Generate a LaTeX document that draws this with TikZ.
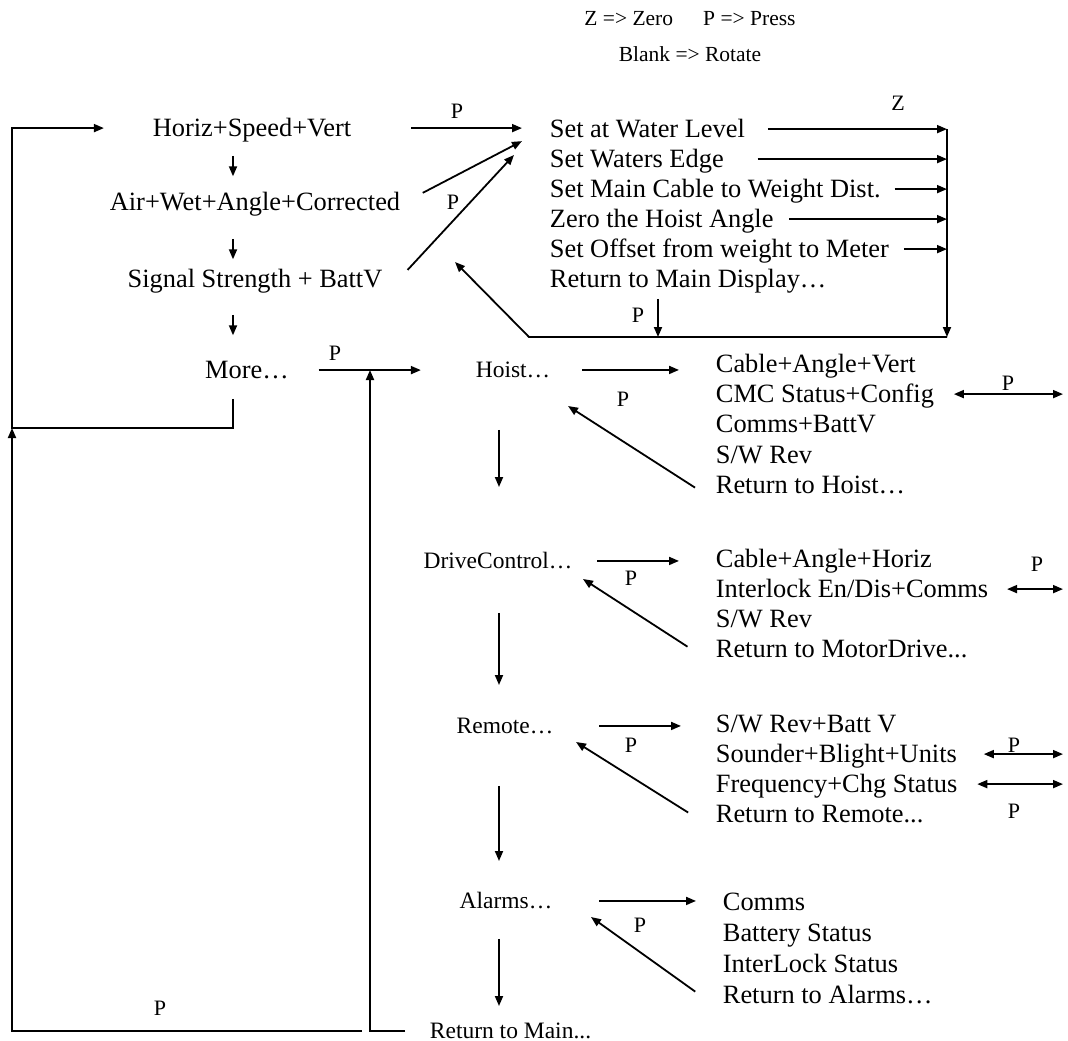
\documentclass[tikz,border=0pt]{standalone}
\usepackage{fontspec}
\setmainfont{Liberation Serif}
\usetikzlibrary{arrows.meta}

\tikzset{
  entry/.style={font=\fontsize{26.4}{30}\selectfont,inner sep=4pt,text height=15.8pt,text depth=0pt},
  menu/.style={font=\fontsize{23.5}{28}\selectfont,inner sep=4pt,text height=14.1pt,text depth=0pt},
  plabel/.style={font=\fontsize{22}{26}\selectfont,inner sep=0pt},
  hint/.style={font=\fontsize{21.5}{26}\selectfont,inner sep=0pt},
}

\begin{document}
\begin{tikzpicture}[x=1pt,y=-1pt,>={Triangle[length=10pt,width=8pt]},line width=1.8pt]
\useasboundingbox (0,0) rectangle (1068,1041);

\node[hint,anchor=base] (hintA) at (690,26) {Z => Zero\hspace{1.4em}P => Press};
\node[hint,anchor=base] (hintB) at (690,62) {Blank => Rotate};

\node[entry,anchor=base] (horiz) at (252,136) {Horiz+Speed+Vert};
\node[entry,anchor=base] (air) at (255,210) {Air+Wet+Angle+Corrected};
\node[entry,anchor=base] (signal) at (255,287) {Signal Strength + BattV};
\node[entry,anchor=base] (more) at (247,378) {More…};

\node[entry,anchor=base west] (setA) at (545,137) {Set at Water Level};
\node[entry,anchor=base west] (setB) at (545,167) {Set Waters Edge};
\node[entry,anchor=base west] (setC) at (545,197) {Set Main Cable to Weight Dist.};
\node[entry,anchor=base west] (setD) at (545,227) {Zero the Hoist Angle};
\node[entry,anchor=base west] (setE) at (545,257) {Set Offset from weight to Meter};
\node[entry,anchor=base west] (setF) at (545,287) {Return to Main Display…};

\node[menu,anchor=base] (hoist) at (513,377) {Hoist…};
\node[menu,anchor=base] (drive) at (498,568) {DriveControl…};
\node[menu,anchor=base] (remote) at (505,733) {Remote…};
\node[menu,anchor=base] (alarms) at (506,908) {Alarms…};
\node[menu,anchor=base west] (retmain) at (425,1038) {Return to Main...};

\node[entry,anchor=base west] (cabA) at (711,372) {Cable+Angle+Vert};
\node[entry,anchor=base west] (cabB) at (711,402) {CMC Status+Config};
\node[entry,anchor=base west] (cabC) at (711,432) {Comms+BattV};
\node[entry,anchor=base west] (cabD) at (711,463) {S/W Rev};
\node[entry,anchor=base west] (cabE) at (711,493) {Return to Hoist…};

\node[entry,anchor=base west] (dcA) at (711,567) {Cable+Angle+Horiz};
\node[entry,anchor=base west] (dcB) at (711,597) {Interlock En/Dis+Comms};
\node[entry,anchor=base west] (dcC) at (711,627) {S/W Rev};
\node[entry,anchor=base west] (dcD) at (711,657) {Return to MotorDrive...};

\node[entry,anchor=base west] (rmA) at (711,732) {S/W Rev+Batt V};
\node[entry,anchor=base west] (rmB) at (711,762) {Sounder+Blight+Units};
\node[entry,anchor=base west] (rmC) at (711,792) {Frequency+Chg Status};
\node[entry,anchor=base west] (rmD) at (711,822) {Return to Remote...};

\node[entry,anchor=base west] (alA) at (718,910) {Comms};
\node[entry,anchor=base west] (alB) at (718,941) {Battery Status};
\node[entry,anchor=base west] (alC) at (718,972) {InterLock Status};
\node[entry,anchor=base west] (alD) at (718,1003) {Return to Alarms…};

\node[plabel] (pTop) at (457,111) {P};
\node[plabel] (pAir) at (453,202) {P};
\node[plabel] (zTop) at (898,103) {Z};
\node[plabel] (pDisp) at (638,315) {P};
\node[plabel] (pMore) at (335,353) {P};
\node[plabel] (pHoist) at (623,399) {P};
\node[plabel] (pCmc) at (1008,383) {P};
\node[plabel] (pDrive) at (631,578) {P};
\node[plabel] (pLock) at (1037,564) {P};
\node[plabel] (pRemote) at (631,745) {P};
\node[plabel] (pSound) at (1014,745) {P};
\node[plabel] (pFreq) at (1014,811) {P};
\node[plabel] (pAlarm) at (640,925) {P};
\node[plabel] (pMain) at (160,1008) {P};

\coordinate (colL) at (233,0);
\coordinate (colR) at (499,0);
\coordinate (loopMid) at (12,428);
\coordinate (hoistJoin) at (370,370);
\coordinate (zBus) at (947,0);
\coordinate (zBot) at (947,337);
\coordinate (bendR) at (529,337);
\coordinate (tipSig) at (455,262);
\coordinate (pDrop) at (658,337);
\coordinate (tipSet) at (514,155);
\coordinate (rgt) at (1063,0);
\coordinate (tipH) at (568,406);
\coordinate (tipD) at (583,579);
\coordinate (tipR) at (576,742);
\coordinate (tipAl) at (591,917);

\draw[->,shorten <=15pt,shorten >=13pt] (horiz.south -| colL) -- (air.north -| colL);
\draw[->,shorten <=24pt,shorten >=7pt] (air.south -| colL) -- (signal.north -| colL);
\draw[->,shorten <=23pt,shorten >=22pt] (signal.south -| colL) -- (more.north -| colL);
\draw[->,shorten <=16pt,shorten >=44pt] (more.south -| colL) |- (loopMid) |- (horiz.west);
\draw[->,shorten <=63pt] (retmain.west) -| (loopMid);
\draw[->,shorten <=20pt] (retmain.west) -| (hoistJoin);

\draw[->,shorten <=55pt,shorten >=23pt] (horiz.east) -- (horiz.east -| setA.west);
\draw[->,shorten <=20pt,shorten >=26pt] (air.east) -- (setA.west);
\draw[->,shorten <=30pt] (signal.south east) -- (tipSet);

\draw[->,shorten <=18pt] (setA.east) -- (setA.east -| zBus);
\draw[->,shorten <=29pt] (setB.east) -- (setB.east -| zBus);
\draw[->,shorten <=9pt] (setC.east) -- (setC.east -| zBus);
\draw[->,shorten <=11pt] (setD.east) -- (setD.east -| zBus);
\draw[->,shorten <=10pt] (setE.east) -- (setE.east -| zBus);
\draw[->] (setA.east -| zBus) -- (zBot);
\draw[->] (zBot) -- (bendR) -- (tipSig);
\draw[->,shorten <=7pt] (setF.south -| pDrop) -- (pDrop);

\draw[->,shorten <=25pt,shorten >=50pt] (more.east) -- (more.east -| hoist.west);
\draw[->,shorten <=27pt,shorten >=32pt] (hoist.east) -- (hoist.east -| cabA.west);
\draw[->,shorten <=20pt,shorten >=32pt] (drive.east) -- (drive.east -| dcA.west);
\draw[->,shorten <=41pt,shorten >=30pt] (remote.east) -- (remote.east -| rmA.west);
\draw[->,shorten <=42pt,shorten >=22pt] (alarms.east) -- (alarms.east -| alA.west);

\draw[->,shorten <=48pt,shorten >=62pt] (hoist.south -| colR) -- (drive.north -| colR);
\draw[->,shorten <=40pt,shorten >=29pt] (drive.south -| colR) -- (remote.north -| colR);
\draw[->,shorten <=48pt,shorten >=28pt] (remote.south -| colR) -- (alarms.north -| colR);
\draw[->,shorten <=26pt,shorten >=13pt] (alarms.south -| colR) -- (retmain.north -| colR);

\draw[->,shorten <=19pt] (cabE.south west) -- (tipH);
\draw[->,shorten <=28pt] (dcD.south west) -- (tipD);
\draw[->,shorten <=27pt] (rmD.south west) -- (tipR);
\draw[->,shorten <=28pt] (alD.south west) -- (tipAl);

\draw[<->,shorten <=15pt] (cabB.east) -- (cabB.east -| rgt);
\draw[<->,shorten <=14pt] (dcB.east) -- (dcB.east -| rgt);
\draw[<->,shorten <=22pt] (rmB.east) -- (rmB.east -| rgt);
\draw[<->,shorten <=15pt] (rmC.east) -- (rmC.east -| rgt);
\end{tikzpicture}
\end{document}
